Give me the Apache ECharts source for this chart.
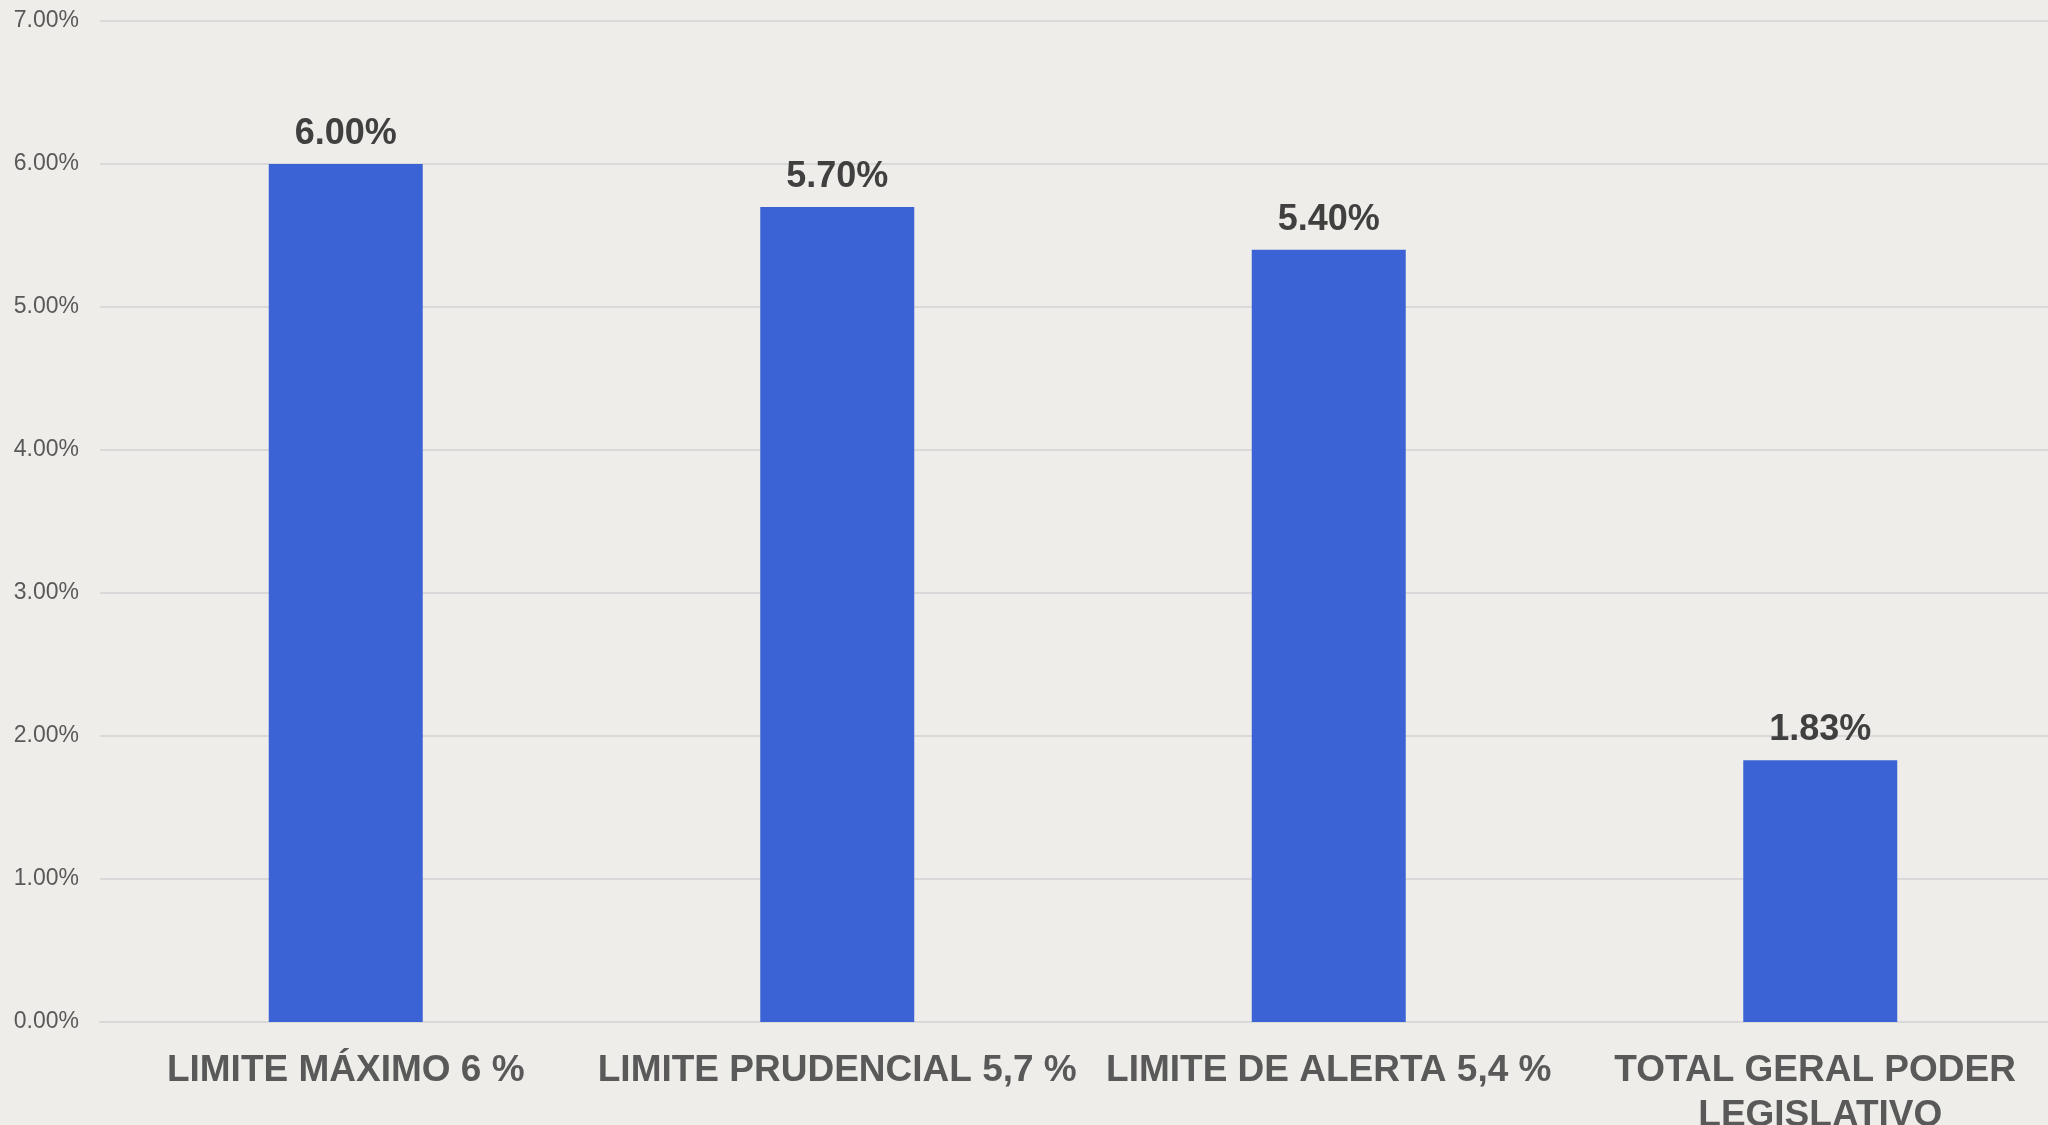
<!DOCTYPE html>
<html>
<head>
<meta charset="utf-8">
<script src="https://cdn.jsdelivr.net/npm/echarts@6/dist/echarts.min.js"></script>
<style>
html,body{margin:0;padding:0;background:#EEEDEA;}
#chart{width:2048px;height:1125px;}
</style>
</head>
<body>
<div id="chart"></div>
<script>
const categories = ["LIMITE MÁXIMO 6 %", "LIMITE PRUDENCIAL 5,7 %", "LIMITE DE ALERTA 5,4 %", "TOTAL GERAL PODER LEGISLATIVO"];
const values = [0.06, 0.057, 0.054, 0.0183];
const yMin = 0, yMax = 0.07, yStep = 0.01;

const chart = echarts.init(document.getElementById('chart'));
chart.setOption({
  backgroundColor: '#EEEDEA',
  animation: false,
  grid: { left: 100, width: 1966, top: 21, bottom: 103, containLabel: false, outerBoundsMode: 'none' },
  xAxis: {
    type: 'category',
    data: categories,
    axisLine: { show: true, lineStyle: { color: '#D9D9D9', width: 2 } },
    axisTick: { show: false },
    axisLabel: {
      interval: 0,
      margin: 26,
      width: 500,
      overflow: 'break',
      color: '#595959',
      fontFamily: 'Liberation Sans, Arial, sans-serif',
      fontWeight: 'bold',
      fontSize: 37,
      lineHeight: 45
    }
  },
  yAxis: {
    type: 'value',
    min: yMin, max: yMax, interval: yStep,
    axisLine: { show: false },
    axisTick: { show: false },
    splitLine: { lineStyle: { color: '#D9D9D9', width: 2 } },
    axisLabel: {
      margin: 21,
      color: '#595959',
      fontFamily: 'Liberation Sans, Arial, sans-serif',
      fontSize: 23,
      formatter: v => (v * 100).toFixed(2) + '%'
    }
  },
  series: [{
    type: 'bar',
    data: values,
    barWidth: 154,
    itemStyle: { color: '#3B63D5' },
    label: {
      show: true,
      position: 'top',
      distance: 12,
      color: '#404040',
      fontFamily: 'Liberation Sans, Arial, sans-serif',
      fontWeight: 'bold',
      fontSize: 36,
      formatter: p => (p.value * 100).toFixed(2) + '%'
    }
  }]
});
</script>
</body>
</html>
